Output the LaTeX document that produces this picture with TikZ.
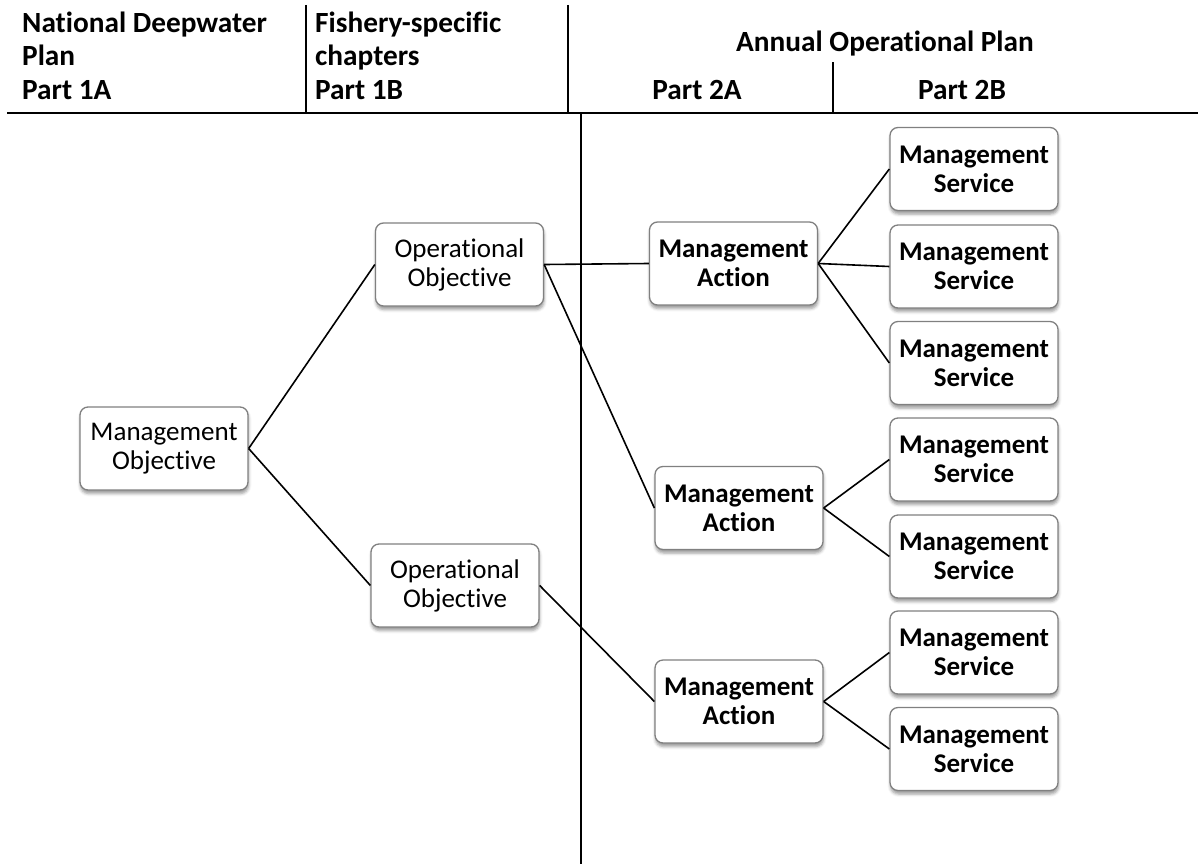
\documentclass[tikz,border=0pt]{standalone}
\usepackage{fontspec}
\setmainfont{Carlito}[Ligatures=NoCommon]
\usetikzlibrary{shadows.blur}
\tikzset{
  box/.style={draw=black!50, line width=1.3pt, rounded corners=8pt, fill=white,
    minimum width=168pt, minimum height=83pt, inner sep=0pt, align=center,
    font=\fontsize{27}{29}\selectfont,
    blur shadow={shadow xshift=0.5pt, shadow yshift=-3.5pt, shadow blur radius=3pt, shadow opacity=40}},
  bbox/.style={box, font=\fontsize{27}{29}\selectfont\bfseries},
  hdr/.style={inner sep=0pt, font=\fontsize{29.3}{33}\selectfont\bfseries},
  rule/.style={line width=2.2pt, black},
  link/.style={line width=1.6pt, black}
}
\begin{document}
\begin{tikzpicture}[x=1pt, y=-1pt]
\useasboundingbox (0,0) rectangle (1198,867);
% header texts
\node[hdr, anchor=base west] (h1a) at (22,33) {National Deepwater};
\node[hdr, anchor=base west] (h1b) at (22,66) {Plan};
\node[hdr, anchor=base west] (h1c) at (22,99) {Part 1A};
\node[hdr, anchor=base west] (h2a) at (315,33) {Fishery-specific};
\node[hdr, anchor=base west] (h2b) at (315,66) {chapters};
\node[hdr, anchor=base west] (h2c) at (315,99) {Part 1B};
\node[hdr, anchor=base] (h3) at (885,52) {Annual Operational Plan};
\node[hdr, anchor=base] (h4) at (697,99) {Part 2A};
\node[hdr, anchor=base] (h5) at (962,99) {Part 2B};
% header rules
\coordinate (r0) at (7,113); \coordinate (r1) at (1198,113);
\coordinate (s1t) at (306,5); \coordinate (s1b) at (306,113);
\coordinate (s2t) at (568,5); \coordinate (s2b) at (568,113);
\coordinate (s3t) at (833,62); \coordinate (s3b) at (833,113);
\coordinate (vt) at (581,113); \coordinate (vb) at (581,864);
\draw[rule] (r0) -- (r1);
\draw[rule] (s1t) -- (s1b);
\draw[rule] (s2t) -- (s2b);
\draw[rule] (s3t) -- (s3b);
\draw[rule] (vt) -- (vb);
% nodes
\node[box] (mo) at (164,448.5) {Management\\Objective};
\node[box] (oo1) at (459.5,264.5) {Operational\\Objective};
\node[box] (oo2) at (455,585.5) {Operational\\Objective};
\node[bbox] (ma1) at (733.5,263.5) {Management\\Action};
\node[bbox] (ma2) at (739,508) {Management\\Action};
\node[bbox] (ma3) at (739,701.5) {Management\\Action};
\node[bbox] (s1) at (974,169) {Management\\Service};
\node[bbox] (s2) at (974,266.5) {Management\\Service};
\node[bbox] (s3) at (974,363) {Management\\Service};
\node[bbox] (s4) at (974,459.5) {Management\\Service};
\node[bbox] (s5) at (974,556.5) {Management\\Service};
\node[bbox] (s6) at (974,652.5) {Management\\Service};
\node[bbox] (s7) at (974,749) {Management\\Service};
% connectors
\draw[link] (mo.east) -- (oo1.west);
\draw[link] (mo.east) -- (oo2.west);
\draw[link] (oo1.east) -- (ma1.west);
\draw[link] (oo1.east) -- (ma2.west);
\draw[link] (oo2.east) -- (ma3.west);
\draw[link] (ma1.east) -- (s1.west);
\draw[link] (ma1.east) -- (s2.west);
\draw[link] (ma1.east) -- (s3.west);
\draw[link] (ma2.east) -- (s4.west);
\draw[link] (ma2.east) -- (s5.west);
\draw[link] (ma3.east) -- (s6.west);
\draw[link] (ma3.east) -- (s7.west);
\end{tikzpicture}
\end{document}
